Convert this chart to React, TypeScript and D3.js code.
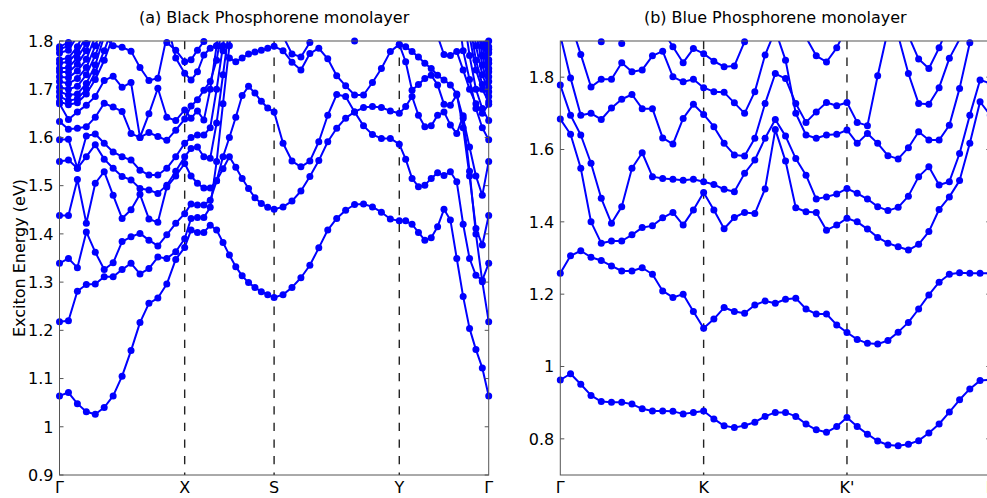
import React from 'react';
import * as d3 from 'd3';

type V = number | null;
const N = null;
const STEPS = 14;

function pad(start: number, vals: V[], n: number): V[] {
  const out: V[] = new Array(n).fill(null);
  vals.forEach((v, j) => { if (start + j < n) out[start + j] = v; });
  return out;
}

// ---------- (a) Black phosphorene: Γ-X-S-Y-Γ, 57 k-points ----------
const blackTitle = '(a) Black Phosphorene monolayer';
const blackKLabels = ['Γ', 'X', 'S', 'Y', 'Γ'];
const blackKNodes = [0, 1.4, 2.4, 3.8, 4.8];
const blackYTicks = [0.9, 1.0, 1.1, 1.2, 1.3, 1.4, 1.5, 1.6, 1.7, 1.8];
const BN = 57;

const black1: V[] = [1.064,1.071,1.048,1.031,1.026,1.040,1.064,1.105,1.158,1.216,1.256,1.267,1.296,1.347,1.372,
  1.408,1.403,1.403,1.418,1.408,1.382,1.356,1.332,1.313,1.299,1.289,1.280,1.274,1.268,
  1.274,1.289,1.309,1.335,1.371,1.408,1.432,1.449,1.461,1.462,1.456,1.445,1.431,1.427,
  1.427,1.420,1.403,1.387,1.392,1.415,1.451,1.429,1.349,1.270,1.204,1.160,1.122,1.064];
const black2: V[] = pad(0, [1.218,1.220,1.281,1.295,1.296,1.311,1.311,1.326,1.339,1.317,1.328,1.352,1.349,1.363,1.390,
  1.432,1.434,1.434,1.455,1.55,1.67,1.79,1.91], BN);
const black3: V[] = [1.339,1.349,1.330,1.404,1.362,1.326,1.340,1.384,1.394,1.401,1.387,1.375,1.398,1.422,1.442,
  1.462,1.460,1.460,1.470,1.51,1.56,1.60,1.642,1.687,1.706,1.692,1.675,1.661,1.653,
  1.588,1.551,1.539,1.551,1.591,1.646,1.689,1.685,1.653,1.624,1.606,1.598,1.598,1.586,
  1.555,1.515,1.498,1.501,1.515,1.527,1.521,1.529,1.508,1.42,1.349,1.314,1.304,1.339];
const black4: V[] = [1.438,1.438,1.513,1.422,1.505,1.529,1.480,1.432,1.450,1.482,1.431,1.424,1.497,1.520,1.546,
  1.52,1.505,1.495,1.495,1.51,1.535,1.560,1.538,1.515,1.494,1.475,1.463,1.455,1.451,
  1.456,1.468,1.489,1.519,1.552,1.591,1.619,1.640,1.653,1.662,1.664,1.662,1.655,1.650,
  1.664,1.685,1.646,1.622,1.624,1.646,1.653,1.626,1.608,1.645,1.53,1.40,1.301,1.218];
const black5: V[] = pad(0, [1.550,1.553,1.536,1.560,1.585,1.555,1.536,1.519,1.512,1.494,1.491,1.484,1.501,1.530,1.560,
  1.577,1.58,1.56,1.557,1.63,1.73,1.83,1.93], BN);
const black6: V[] = pad(0, [1.595,1.596,1.536,1.603,1.607,1.588,1.570,1.560,1.553,1.532,1.522,1.522,1.536,1.560,1.588,
  1.60,1.605,1.605,1.62,1.70,1.79,1.89], BN);
const black7: V[] = pad(0, [1.633,1.617,1.619,1.622,1.642,1.671,1.663,1.654,1.608,1.600,1.610,1.602,1.594,1.615,1.638,
  1.665,1.678,1.698,1.716,1.76,1.84], BN);
const black8: V[] = pad(0, [1.670,1.637,1.653,1.667,1.685,1.718,1.727,1.704,1.714,1.600,1.649,1.702,1.642,1.635,1.657,
  1.64,1.655,1.636,1.70,1.79,1.88], BN);
const black9: V[] = pad(3, [1.88,1.83,1.81,1.790,1.787,1.779,1.745,1.718,1.723,1.81,1.86], BN);
const black10: V[] = pad(11, [1.86,1.797,1.781,1.757,1.761,1.781,1.799,1.84], BN);
const black11: V[] = pad(12, [1.84,1.765,1.733,
  1.719,1.736,1.771,1.785,1.79,1.78,1.765,1.757,1.765,1.773,1.777,1.781,1.785,1.789,
  1.780,1.756,1.740,1.774,1.785,1.763,1.728,1.707,1.688,1.688,1.714,1.743,1.778,1.793,
  1.788,1.778,1.767,1.754,1.743,1.729,1.719,1.709,1.69,1.62,1.52,1.411,1.377,1.438], BN);
const black12: V[] = pad(28, [1.86,1.81,1.773,1.767,1.797,1.84], BN);
const black13: V[] = pad(42, [1.793,1.757,1.698,1.710,1.722,1.729,1.709,1.669,1.667,1.688,1.64,1.58,1.52,1.48,1.55], BN);
const black14: V[] = pad(36, [1.86,1.80,1.86], BN);
const black15: V[] = pad(47, [1.84,1.81,1.772,1.770,1.778,1.74,1.70,1.67,1.65,1.669], BN);
// upper bands leaving the window near the left Γ
const blackUpperLeft: V[][] = [
  pad(0, [1.674,1.668,1.672,1.690,1.72,1.76,1.81,1.85], BN),
  pad(0, [1.685,1.676,1.680,1.700,1.735,1.78,1.83], BN),
  pad(0, [1.695,1.688,1.690,1.712,1.75,1.81,1.86], BN),
  pad(0, [1.704,1.700,1.706,1.730,1.77,1.82], BN),
  pad(0, [1.716,1.712,1.722,1.745,1.79,1.84], BN),
  pad(0, [1.726,1.724,1.738,1.762,1.81], BN),
  pad(0, [1.736,1.735,1.752,1.78,1.83], BN),
  pad(0, [1.743,1.745,1.765,1.795,1.84], BN),
  pad(0, [1.754,1.757,1.776,1.81], BN),
  pad(0, [1.761,1.765,1.788,1.83], BN),
  pad(0, [1.775,1.781,1.81,1.84], BN),
  pad(0, [1.783,1.790,1.82], BN),
  pad(0, [1.788,1.797,1.83], BN),
];
// upper bands entering the window near the right Γ
const blackUpperRight: V[][] = [
  pad(51, [1.88,1.78,1.72,1.66,1.62,1.595], BN),
  pad(52, [1.86,1.77,1.70,1.66,1.635], BN),
  pad(52, [1.90,1.81,1.74,1.70,1.674], BN),
  pad(53, [1.84,1.76,1.71,1.685], BN),
  pad(53, [1.88,1.79,1.73,1.695], BN),
  pad(54, [1.82,1.75,1.704], BN),
  pad(54, [1.85,1.77,1.716], BN),
  pad(54, [1.88,1.79,1.726], BN),
  pad(55, [1.81,1.736], BN),
  pad(55, [1.83,1.743], BN),
  pad(55, [1.85,1.754], BN),
  pad(55, [1.87,1.761], BN),
  pad(55, [1.89,1.775], BN),
  pad(55, [1.90,1.783], BN),
  pad(55, [1.88,1.788], BN),
  pad(55, [1.86,1.80], BN),
];
const blackBands: V[][] = [black1, black2, black3, black4, black5, black6, black7, black8, black9, black10,
  black11, black12, black13, black14, black15, ...blackUpperLeft, ...blackUpperRight];

// ---------- (b) Blue phosphorene: Γ-K-K'-Γ, 43 k-points ----------
const blueTitle = '(b) Blue Phosphorene monolayer';
const blueKLabels = ['Γ', 'K', "K'", 'Γ'];
const blueKNodes = [0, 1, 2, 3];
const blueYTicks = [0.8, 1.0, 1.2, 1.4, 1.6, 1.8];

const blue1: V[] = [0.963,0.980,0.951,0.920,0.903,0.901,0.901,0.896,0.883,0.877,0.877,0.876,0.869,0.873,0.877,
  0.855,0.836,0.831,0.837,0.846,0.862,0.873,0.873,0.862,0.841,0.825,0.818,0.834,0.859,
  0.834,0.813,0.794,0.783,0.781,0.785,0.795,0.816,0.841,0.874,0.908,0.938,0.961,0.963];
const blue2: V[] = [1.258,1.306,1.320,1.302,1.293,1.278,1.264,1.264,1.273,1.255,1.209,1.191,1.200,1.152,1.106,
  1.131,1.163,1.152,1.147,1.170,1.181,1.175,1.186,1.189,1.159,1.145,1.145,1.115,1.094,
  1.075,1.064,1.062,1.072,1.095,1.122,1.159,1.198,1.233,1.255,1.259,1.258,1.258,1.258];
const blue3: V[] = [1.684,1.642,1.548,1.400,1.341,1.347,1.347,1.364,1.384,1.389,1.411,1.426,1.391,1.433,1.481,
  1.433,1.381,1.412,1.426,1.423,1.491,1.655,1.568,1.439,1.428,1.426,1.377,1.391,1.410,
  1.400,1.380,1.357,1.341,1.331,1.322,1.338,1.373,1.434,1.469,1.514,1.617,1.732,1.695];
const blue4: V[] = [1.778,1.695,1.640,1.562,1.465,1.396,1.442,1.548,1.591,1.525,1.520,1.518,1.515,1.518,1.511,
  1.503,1.490,1.483,1.534,1.571,1.631,1.683,1.637,1.575,1.529,1.463,1.469,1.477,1.492,
  1.479,1.463,1.442,1.431,1.440,1.471,1.525,1.552,1.502,1.511,1.589,1.695,1.792,1.783];
const blue5: V[] = [1.915,1.798,1.695,1.700,1.683,1.715,1.739,1.752,1.713,1.713,1.632,1.615,1.686,1.725,1.697,
  1.663,1.617,1.585,1.582,1.631,1.727,1.810,1.796,1.727,1.675,1.704,1.730,1.721,1.730,
  1.675,1.666,1.804,1.93,1.915,1.810,1.727,1.725,1.771,1.852,1.905,1.96,2.0,2.05];
const blue6: V[] = [N,1.95,1.863,1.773,1.794,1.794,1.840,1.815,1.820,1.859,1.872,1.801,1.787,1.794,1.771,
  1.760,1.758,1.729,1.700,1.760,1.861,1.93,1.847,1.700,1.640,1.631,1.640,1.642,1.654,
  1.617,1.644,1.617,1.583,1.574,1.605,1.649,1.626,1.626,1.667,1.769,1.895,1.99,N];
const blue7: V[] = [N,N,N,1.96,1.898,1.93,1.893,1.95,N,N,1.93,1.884,1.840,1.879,1.865,
  1.844,1.829,1.831,1.898,1.98,N,N,N,1.95,1.91,1.859,1.842,1.881,1.94,
  N,N,N,N,1.96,1.915,1.850,1.824,1.881,1.95,N,N,N,N];
const blueBands: V[][] = [blue1, blue2, blue3, blue4, blue5, blue6, blue7];

const FONT = "'DejaVu Sans', 'Liberation Sans', sans-serif";
const BLUE = '#0000ff';

const fmt = (v: number) => (Math.abs(v - 1) < 1e-9 ? '1' : v.toFixed(1));

interface PanelProps {
  id: string; x0: number; x1: number; y0: number; y1: number;
  domain: [number, number]; yTicks: number[]; kNodes: number[]; kLabels: string[];
  bands: V[][]; title: string;
}

function Panel(p: PanelProps) {
  const { id, x0, x1, y0, y1, domain, yTicks, kNodes, kLabels, bands, title } = p;
  const x = d3.scaleLinear().domain([kNodes[0], kNodes[kNodes.length - 1]]).range([x0, x1]);
  const y = d3.scaleLinear().domain(domain).range([y1, y0]);
  const nSeg = kNodes.length - 1;
  const kAt = (i: number) => {
    const s = Math.min(Math.floor(i / STEPS), nSeg - 1);
    const t = (i - s * STEPS) / STEPS;
    return kNodes[s] + t * (kNodes[s + 1] - kNodes[s]);
  };
  const line = d3.line<V>()
    .defined(d => d != null)
    .x((_, i) => x(kAt(i)))
    .y(d => y(d as number));
  const eps = 1e-6;
  return (
    <g>
      <defs>
        <clipPath id={id}>
          <rect x={x0} y={y0} width={x1 - x0} height={y1 - y0} />
        </clipPath>
      </defs>
      {kNodes.slice(1, -1).map((k, i) => (
        <line key={'v' + i} x1={x(k)} x2={x(k)} y1={y0} y2={y1} stroke="#222" strokeWidth={1.4}
          strokeDasharray="8.3,8.3" />
      ))}
      <g clipPath={`url(#${id})`}>
        {bands.map((b, bi) => (
          <path key={'b' + bi} d={line(b) || ''} fill="none" stroke={BLUE} strokeWidth={2} strokeLinejoin="round" />
        ))}
      </g>
      {bands.map((b, bi) => (
        <g key={'d' + bi}>
          {b.map((v, i) => (v != null && v <= domain[1] + eps && v >= domain[0] - eps) ? (
            <circle key={i} cx={x(kAt(i))} cy={y(v)} r={3.5} fill={BLUE} />
          ) : null)}
        </g>
      ))}
      <rect x={x0} y={y0} width={x1 - x0} height={y1 - y0} fill="none" stroke="#555" strokeWidth={1} />
      {yTicks.map((t, i) => (
        <g key={'t' + i}>
          <line x1={x0} x2={x0 + 4} y1={y(t)} y2={y(t)} stroke="#555" />
          <line x1={x1 - 4} x2={x1} y1={y(t)} y2={y(t)} stroke="#555" />
          <text x={x0 - 6} y={y(t)} dy="0.36em" textAnchor="end" fontFamily={FONT} fontSize={16} fill="#000">{fmt(t)}</text>
        </g>
      ))}
      {kNodes.map((k, i) => (
        <text key={'k' + i} x={x(k)} y={493} textAnchor="middle" fontFamily={FONT} fontSize={16} fill="#000">{kLabels[i]}</text>
      ))}
      <text x={(x0 + x1) / 2} y={22.5} textAnchor="middle" fontFamily={FONT} fontSize={16} fill="#000">{title}</text>
    </g>
  );
}

export default function App() {
  return (
    <svg width={987} height={498} style={{ position: 'absolute', left: 0, top: 0, background: '#fff' }}>
      <rect x={0} y={0} width={987} height={498} fill="#fff" />
      <Panel id="clipA" x0={59.5} x1={488.7} y0={41} y1={475} domain={[0.9, 1.8]} yTicks={blackYTicks}
        kNodes={blackKNodes} kLabels={blackKLabels} bands={blackBands} title={blackTitle} />
      <Panel id="clipB" x0={560.3} x1={990.3} y0={41} y1={475} domain={[0.7, 1.9]} yTicks={blueYTicks}
        kNodes={blueKNodes} kLabels={blueKLabels} bands={blueBands} title={blueTitle} />
      <text transform="translate(25,258) rotate(-90)" textAnchor="middle" fontFamily={FONT} fontSize={16} fill="#000">
        Exciton Energy (eV)
      </text>
    </svg>
  );
}
